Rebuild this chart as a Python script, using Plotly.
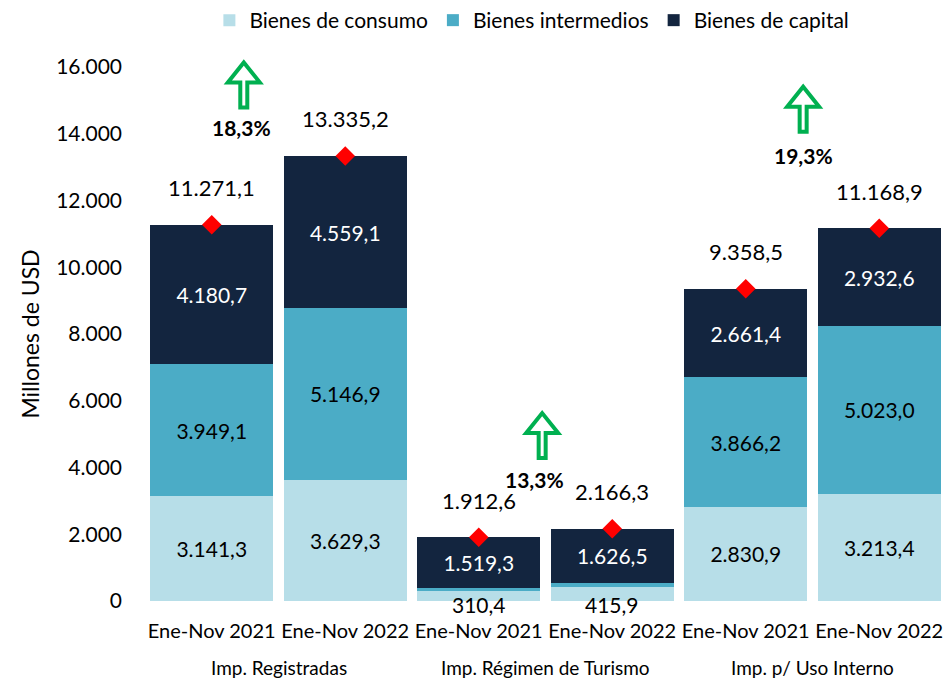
import plotly.graph_objects as go

categories = ["Ene-Nov 2021", "Ene-Nov 2022"] * 3
groups = ["Imp. Registradas", "Imp. Régimen de Turismo", "Imp. p/ Uso Interno"]
consumo = [3141.3, 3629.3, 310.4, 415.9, 2830.9, 3213.4]
intermedios = [3949.1, 5146.9, 82.9, 123.9, 3866.2, 5023.0]
capital = [4180.7, 4559.1, 1519.3, 1626.5, 2661.4, 2932.6]
totals = [11271.1, 13335.2, 1912.6, 2166.3, 9358.5, 11168.9]

Y_MAX = 16000
# decoration positions (arrow / percentage label placement)
arrow_x = [0.24, 2.475, 4.43]
arrow_y = [14790, 4281, 14060]
pct_x = [0.22, 2.42, 4.43]
pct_y = [14200, 3655, 13360]

FONT = "Lato"
C_CONS = "#B7DEE8"
C_INT = "#4BACC6"
C_CAP = "#13253F"


def fmt(v):
    s = f"{v:,.1f}"
    return s.replace(",", "X").replace(".", ",").replace("X", ".")


x = list(range(len(categories)))
n = len(x)


def seg_text(vals):
    return [fmt(v) if v >= 1000 else "" for v in vals]


fig = go.Figure()
for name, vals, col, tcol in [
    ("Bienes de consumo", consumo, C_CONS, "black"),
    ("Bienes intermedios", intermedios, C_INT, "black"),
    ("Bienes de capital", capital, C_CAP, "white"),
]:
    fig.add_trace(go.Bar(
        x=x, y=vals, name=name, marker=dict(color=col, line=dict(width=0)),
        text=seg_text(vals), textposition="inside", insidetextanchor="middle",
        textangle=0, constraintext="none",
        textfont=dict(family=FONT, size=21, color=tcol),
        hoverinfo="skip",
    ))

fig.add_trace(go.Scatter(
    x=x, y=totals, mode="markers", showlegend=False,
    marker=dict(symbol="diamond", size=15, color="#FF0000"),
    hoverinfo="skip",
))

annotations = []
for i, t in enumerate(totals):
    annotations.append(dict(x=i, y=t, xref="x", yref="y", text=fmt(t),
                            showarrow=False, yshift=37,
                            font=dict(family=FONT, size=22, color="black")))
# small consumo labels at base
for i, v in enumerate(consumo):
    if v < 1000:
        annotations.append(dict(x=i, y=0, xref="x", yref="y", text=fmt(v),
                                showarrow=False, yanchor="middle", yshift=-3,
                                font=dict(family=FONT, size=21, color="black")))
# percentage changes
for g in range(3):
    a, b = totals[2 * g], totals[2 * g + 1]
    pct = (b / a - 1) * 100
    annotations.append(dict(x=pct_x[g], y=pct_y[g], xref="x", yref="y",
                            text="<b>" + f"{pct:.1f}".replace(".", ",") + "%</b>",
                            showarrow=False,
                            font=dict(family=FONT, size=21, color="black")))
# group labels
for g, name in enumerate(groups):
    annotations.append(dict(x=2 * g + 0.5, y=-0.125, xref="x", yref="paper",
                            text=name, showarrow=False, yanchor="middle",
                            font=dict(family=FONT, size=19, color="black")))

arrow_path = "M-3.5,0 L3.5,0 L3.5,25 L16,25 L0,45 L-16,25 L-3.5,25 Z"
shapes = []
for ax_, ay_ in zip(arrow_x, arrow_y):
    shapes.append(dict(type="path", xref="paper", yref="paper",
                       xsizemode="pixel", ysizemode="pixel",
                       xanchor=(ax_ + 0.5) / n, yanchor=ay_ / Y_MAX,
                       path=arrow_path,
                       fillcolor="white", line=dict(color="#00B050", width=4)))

fig.update_layout(
    width=947, height=679,
    barmode="stack", bargap=0.08,
    separators=",.",
    plot_bgcolor="white", paper_bgcolor="white",
    font=dict(family=FONT, size=20, color="black"),
    margin=dict(l=145, r=1, t=67, b=78),
    legend=dict(orientation="h", x=0.483, xanchor="center",
                yref="container", y=1.0, yanchor="top",
                font=dict(family=FONT, size=21), traceorder="normal",
                itemwidth=30),
    annotations=annotations,
    shapes=shapes,
    xaxis=dict(tickmode="array", tickvals=x, ticktext=categories,
               range=[-0.5, 5.5], showgrid=False, zeroline=False,
               showline=False, ticks="", tickfont=dict(size=20),
               ticklabelstandoff=16),
    yaxis=dict(range=[0, Y_MAX], dtick=2000, tickformat=",d",
               showgrid=False, zeroline=False, showline=False,
               ticks="", ticklabelstandoff=22, tickfont=dict(size=21),
               title=dict(text="Millones de USD", font=dict(size=23), standoff=10)),
)

fig.write_html("out.html", config={"displayModeBar": False},
               post_script="document.body.style.margin='0';")
